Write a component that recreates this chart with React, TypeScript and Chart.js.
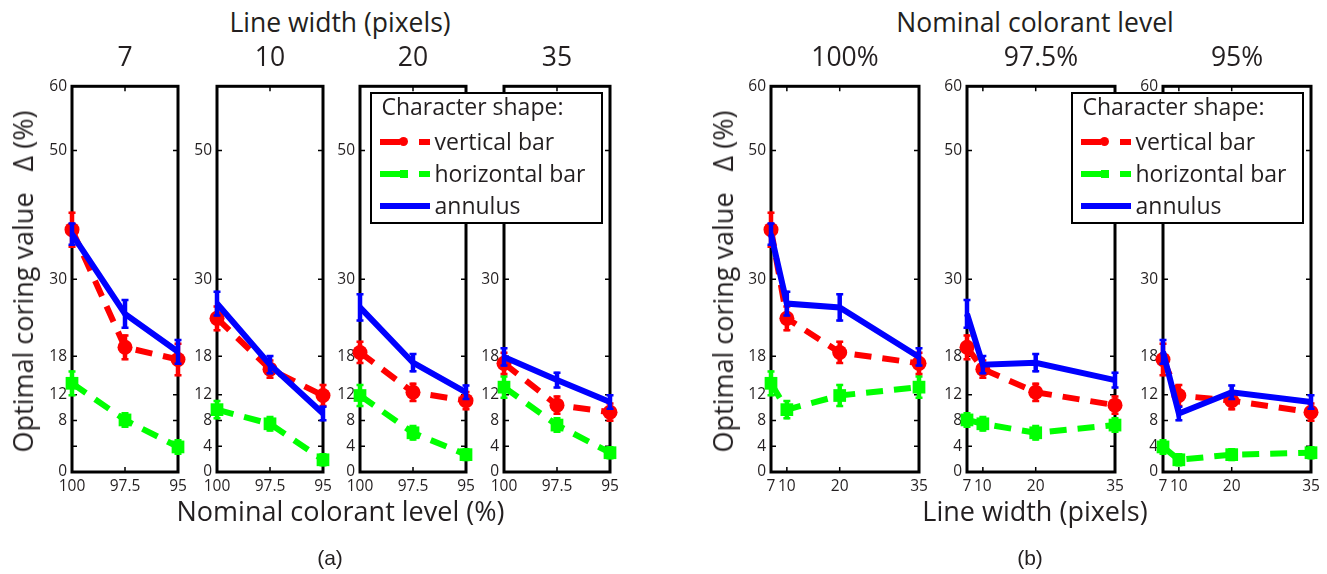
import React, { useEffect, useRef } from "react";
import { Chart, registerables } from "chart.js";

Chart.register(...registerables);

// ---------------- data ----------------
const LINE_WIDTHS = [7, 10, 20, 35];
const COLORANT_LEVELS = [100, 97.5, 95];
const LINE_WIDTH_TICK_LABELS = ["7", "10", "20", "35"];
const COLORANT_TICK_LABELS = ["100", "97.5", "95"];
const Y_TICKS = [0, 4, 8, 12, 18, 30, 50, 60];

// optimal coring value per line width (7, 10, 20, 35) at each nominal colorant level
const verticalBar100 = [37.7, 23.9, 18.6, 16.9];
const verticalBar975 = [19.4, 16.0, 12.4, 10.4];
const verticalBar95 = [17.5, 11.9, 11.1, 9.3];

const horizontalBar100 = [13.8, 9.7, 11.9, 13.2];
const horizontalBar975 = [8.1, 7.5, 6.1, 7.3];
const horizontalBar95 = [3.9, 1.9, 2.7, 3.0];

const annulus100 = [37.0, 26.2, 25.6, 17.9];
const annulus975 = [24.6, 16.7, 17.0, 14.3];
const annulus95 = [18.7, 9.1, 12.4, 10.9];

// error-bar half lengths
const verticalBarErr100 = [2.8, 2.0, 1.8, 1.8];
const verticalBarErr975 = [2.0, 1.5, 1.5, 1.5];
const verticalBarErr95 = [2.6, 1.8, 1.5, 1.5];

const horizontalBarErr100 = [2.0, 1.5, 1.8, 1.8];
const horizontalBarErr975 = [1.2, 1.2, 1.2, 1.2];
const horizontalBarErr95 = [1.2, 1.0, 1.0, 1.0];

const annulusErr100 = [1.8, 2.0, 2.2, 1.5];
const annulusErr975 = [2.3, 1.5, 1.5, 1.3];
const annulusErr95 = [2.0, 1.2, 1.2, 1.2];

// ---------------- styles / layout ----------------
const TEXT = "#231f20";
const FONT = "'Open Sans', sans-serif";
Chart.defaults.font.family = FONT;
Chart.defaults.color = TEXT;

const SERIES = [
  {
    label: "annulus",
    color: "#0000ff",
    dash: [] as number[],
    pointStyle: "circle",
    radius: 0,
    values: [annulus100, annulus975, annulus95],
    errors: [annulusErr100, annulusErr975, annulusErr95],
  },
  {
    label: "vertical bar",
    color: "#ff0000",
    dash: [17, 11],
    pointStyle: "circle",
    radius: 7.5,
    values: [verticalBar100, verticalBar975, verticalBar95],
    errors: [verticalBarErr100, verticalBarErr975, verticalBarErr95],
  },
  {
    label: "horizontal bar",
    color: "#00ff00",
    dash: [17, 11],
    pointStyle: "rect",
    radius: 9,
    values: [horizontalBar100, horizontalBar975, horizontalBar95],
    errors: [horizontalBarErr100, horizontalBarErr975, horizontalBarErr95],
  },
];

const PANEL_TOP = 84;
const PANEL_H = 388;
const PAD_L = 50;
const PAD_T = 12;
const PAD_R = 22;
const PAD_B = 40;
const TICK_FONT = 15.5;

const A_LEFTS = [72, 217, 360, 504];
const A_W = 106;
const A_YLABELS = [
  [0, 8, 12, 18, 30, 50, 60],
  [0, 4, 8, 12, 18, 30, 50],
  [0, 4, 8, 12, 18, 30, 50],
  [0, 4, 8, 12, 18, 30, 50],
];
const B_LEFTS = [771, 967, 1163];
const B_W = 148;
const B_YLABELS = [Y_TICKS, Y_TICKS, Y_TICKS];

// ---------------- plugins ----------------
const framePlugin = {
  id: "frame",
  beforeDatasetsDraw(chart: any) {
    const { ctx, chartArea, scales } = chart;
    const { left, top, right, bottom } = chartArea;
    ctx.save();
    ctx.strokeStyle = "#000";
    ctx.lineWidth = 1.5;
    ctx.beginPath();
    scales.y.ticks.forEach((t: any) => {
      const py = scales.y.getPixelForValue(t.value);
      ctx.moveTo(left, py);
      ctx.lineTo(left + 5, py);
      ctx.moveTo(right, py);
      ctx.lineTo(right - 5, py);
    });
    scales.x.ticks.forEach((t: any) => {
      const px = scales.x.getPixelForValue(t.value);
      ctx.moveTo(px, bottom);
      ctx.lineTo(px, bottom - 5);
      ctx.moveTo(px, top);
      ctx.lineTo(px, top + 5);
    });
    ctx.stroke();
    ctx.lineWidth = 3;
    ctx.strokeRect(left, top, right - left, bottom - top);
    ctx.restore();
  },
};

const errorBarPlugin = {
  id: "errorBars",
  beforeDatasetDraw(chart: any, args: any) {
    const ds = chart.data.datasets[args.index];
    const meta = args.meta;
    const y = chart.scales.y;
    const { ctx } = chart;
    ctx.save();
    ctx.strokeStyle = ds.borderColor;
    meta.data.forEach((el: any, j: number) => {
      const v = ds.data[j].y;
      const e = ds.errors[j];
      const y1 = y.getPixelForValue(v + e);
      const y2 = y.getPixelForValue(v - e);
      ctx.lineWidth = 4.5;
      ctx.beginPath();
      ctx.moveTo(el.x, y1);
      ctx.lineTo(el.x, y2);
      ctx.stroke();
      ctx.lineWidth = 2.5;
      ctx.beginPath();
      ctx.moveTo(el.x - 3.5, y1 + 1);
      ctx.lineTo(el.x + 3.5, y1 + 1);
      ctx.moveTo(el.x - 3.5, y2 - 1);
      ctx.lineTo(el.x + 3.5, y2 - 1);
      ctx.stroke();
    });
    ctx.restore();
  },
};

// ---------------- components ----------------
type PanelProps = {
  left: number;
  width: number;
  xMin: number;
  xMax: number;
  reverse: boolean;
  xTicks: number[];
  xTickLabels: string[];
  yLabels: number[];
  datasets: any[];
};

function Panel(p: PanelProps) {
  const ref = useRef<HTMLCanvasElement>(null);
  const cw = p.width + PAD_L + PAD_R;
  const ch = PANEL_H + PAD_T + PAD_B;
  useEffect(() => {
    const chart = new Chart(ref.current as HTMLCanvasElement, {
      type: "line",
      data: { datasets: p.datasets },
      options: {
        responsive: false,
        animation: false,
        events: [],
        layout: { padding: { left: 0, top: PAD_T, right: PAD_R, bottom: 0 } },
        plugins: {
          legend: { display: false },
          tooltip: { enabled: false },
          title: { display: false },
        },
        scales: {
          x: {
            type: "linear",
            min: p.xMin,
            max: p.xMax,
            reverse: p.reverse,
            grid: { display: false, drawTicks: false },
            border: { display: false },
            afterBuildTicks: (s: any) => {
              s.ticks = p.xTicks.map((v) => ({ value: v }));
            },
            afterFit: (s: any) => {
              s.height = PAD_B;
            },
            ticks: {
              autoSkip: false,
              maxRotation: 0,
              minRotation: 0,
              padding: 5,
              color: TEXT,
              font: { size: TICK_FONT, family: FONT },
              callback: (_v: any, i: number) => p.xTickLabels[i],
            },
          },
          y: {
            type: "linear",
            min: 0,
            max: 60,
            grid: { display: false, drawTicks: false },
            border: { display: false },
            afterBuildTicks: (s: any) => {
              s.ticks = Y_TICKS.map((v) => ({ value: v }));
            },
            afterFit: (s: any) => {
              s.width = PAD_L;
            },
            ticks: {
              autoSkip: false,
              padding: 5,
              color: TEXT,
              font: { size: TICK_FONT, family: FONT },
              callback: (v: any) => (p.yLabels.includes(v) ? String(v) : ""),
            },
          },
        },
      } as any,
      plugins: [framePlugin, errorBarPlugin],
    });
    return () => chart.destroy();
  }, []);
  return (
    <canvas
      ref={ref}
      width={cw}
      height={ch}
      style={{
        position: "absolute",
        left: p.left - PAD_L,
        top: PANEL_TOP - PAD_T,
        width: cw,
        height: ch,
      }}
    />
  );
}

function makeDataset(s: any, xs: number[], ys: number[], es: number[]) {
  return {
    label: s.label,
    data: xs.map((x, i) => ({ x, y: ys[i] })),
    errors: es,
    borderColor: s.color,
    backgroundColor: s.color,
    borderWidth: 6,
    borderDash: s.dash,
    borderCapStyle: "butt",
    tension: 0,
    fill: false,
    clip: false,
    pointStyle: s.pointStyle,
    pointRadius: s.radius,
    pointBackgroundColor: s.color,
    pointBorderWidth: 0,
  };
}

function Label(props: {
  x: number;
  y: number;
  size: number;
  text: string;
  rotate?: boolean;
  family?: string;
  base?: number;
}) {
  const base = (props.base ?? 0.888) * props.size;
  const t = props.rotate
    ? `translate(${props.x}px, ${props.y}px) rotate(-90deg) translate(-50%, -${base}px)`
    : `translate(${props.x}px, ${props.y}px) translate(-50%, -${base}px)`;
  return (
    <div
      style={{
        position: "absolute",
        left: 0,
        top: 0,
        whiteSpace: "pre",
        fontFamily: props.family ?? FONT,
        fontSize: props.size,
        lineHeight: `${props.size}px`,
        color: TEXT,
        transformOrigin: "0 0",
        transform: t,
        zIndex: 5,
      }}
    >
      {props.text}
    </div>
  );
}

function Legend({ left, top }: { left: number; top: number }) {
  const rowY = [50, 82, 114];
  const textBase = [59, 91, 123];
  const boxStyle: React.CSSProperties = {
    position: "absolute",
    left,
    top,
    width: 233,
    height: 132,
    boxSizing: "border-box",
    border: "2.5px solid #000",
    background: "#fff",
    zIndex: 10,
  };
  const b = 2.5;
  const rect = (x: number, y: number, w: number, h: number, c: string, r = 0) => (
    <div
      style={{
        position: "absolute",
        left: x - b,
        top: y - b,
        width: w,
        height: h,
        background: c,
        borderRadius: r,
      }}
    />
  );
  const text = (x: number, baseline: number, s: string, size: number) => (
    <div
      style={{
        position: "absolute",
        left: x - b,
        top: baseline - b - 0.888 * size,
        fontFamily: FONT,
        fontSize: size,
        lineHeight: `${size}px`,
        whiteSpace: "nowrap",
        color: TEXT,
      }}
    >
      {s}
    </div>
  );
  const s = 23;
  return (
    <div style={boxStyle}>
      {text(12, 24, "Character shape:", s)}
      {/* vertical bar */}
      {rect(10, rowY[0] - 3, 20, 6, "#ff0000")}
      {rect(29.5, rowY[0] - 4.5, 9, 9, "#ff0000", 5)}
      {rect(49, rowY[0] - 3, 11, 6, "#ff0000")}
      {text(65, textBase[0], SERIES[1].label, s)}
      {/* horizontal bar */}
      {rect(10, rowY[1] - 3, 20, 6, "#00ff00")}
      {rect(30, rowY[1] - 4, 8, 8, "#00ff00")}
      {rect(49, rowY[1] - 3, 11, 6, "#00ff00")}
      {text(65, textBase[1], SERIES[2].label, s)}
      {/* annulus */}
      {rect(10, rowY[2] - 3, 50, 6, "#0000ff")}
      {text(65, textBase[2], SERIES[0].label, s)}
    </div>
  );
}

export default function App() {
  const aPanels = LINE_WIDTHS.map((w, k) => {
    const datasets = SERIES.map((s) =>
      makeDataset(
        s,
        COLORANT_LEVELS,
        COLORANT_LEVELS.map((_, i) => s.values[i][k]),
        COLORANT_LEVELS.map((_, i) => s.errors[i][k])
      )
    );
    return (
      <Panel
        key={"a" + k}
        left={A_LEFTS[k]}
        width={A_W}
        xMin={95}
        xMax={100}
        reverse={true}
        xTicks={COLORANT_LEVELS}
        xTickLabels={COLORANT_TICK_LABELS}
        yLabels={A_YLABELS[k]}
        datasets={datasets}
      />
    );
  });
  const bPanels = COLORANT_LEVELS.map((c, i) => {
    const datasets = SERIES.map((s) =>
      makeDataset(s, LINE_WIDTHS, s.values[i], s.errors[i])
    );
    return (
      <Panel
        key={"b" + i}
        left={B_LEFTS[i]}
        width={B_W}
        xMin={7}
        xMax={35}
        reverse={false}
        xTicks={LINE_WIDTHS}
        xTickLabels={LINE_WIDTH_TICK_LABELS}
        yLabels={B_YLABELS[i]}
        datasets={datasets}
      />
    );
  });

  const big = 26.5;
  return (
    <div
      style={{
        position: "absolute",
        left: 0,
        top: 0,
        width: 1327,
        height: 574,
        background: "#fff",
        overflow: "hidden",
      }}
    >
      {aPanels}
      {bPanels}
      <Label x={340} y={33} size={big} text="Line width (pixels)" />
      <Label x={1035} y={33} size={big} text="Nominal colorant level" />
      {LINE_WIDTHS.map((w, k) => (
        <Label key={"ta" + k} x={A_LEFTS[k] + A_W / 2} y={67} size={big} text={String(w)} />
      ))}
      {COLORANT_LEVELS.map((c, i) => (
        <Label key={"tb" + i} x={B_LEFTS[i] + B_W / 2} y={67} size={big} text={`${c}%`} />
      ))}
      <Label x={340.5} y={521} size={27} text="Nominal colorant level (%)" />
      <Label x={1035} y={521} size={27} text="Line width (pixels)" />
      <Label x={33} y={281.5} size={27} rotate text="Optimal coring value   Δ (%)" />
      <Label x={733} y={281.5} size={27} rotate text="Optimal coring value   Δ (%)" />
      <Label x={330} y={565} size={21} family="'Liberation Sans', Arial, sans-serif" base={0.8465} text="(a)" />
      <Label x={1030} y={565} size={21} family="'Liberation Sans', Arial, sans-serif" base={0.8465} text="(b)" />
      <Legend left={370} top={92} />
      <Legend left={1071} top={92} />
    </div>
  );
}
